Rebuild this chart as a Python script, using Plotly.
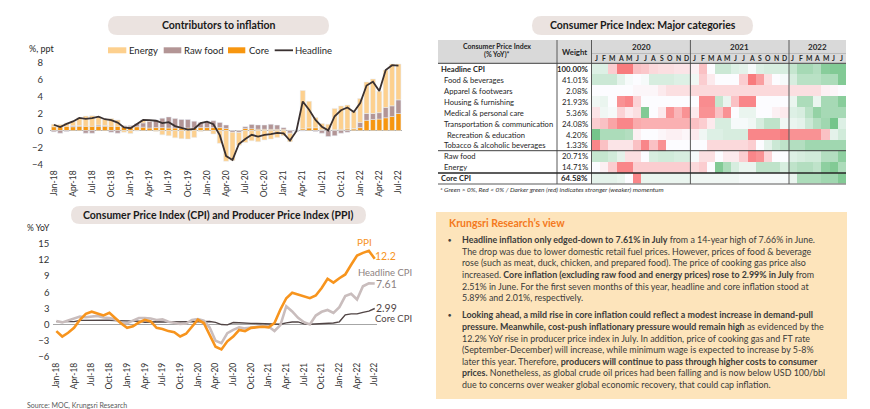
import plotly.graph_objects as go

W, H = 870, 409
def X(p): return p / W
def Y(p): return 1 - p / H

FONT = "Lato, Carlito, sans-serif"

# ---------------- data ----------------
months = ["Jan-18","Feb-18","Mar-18","Apr-18","May-18","Jun-18","Jul-18","Aug-18","Sep-18","Oct-18","Nov-18","Dec-18",
          "Jan-19","Feb-19","Mar-19","Apr-19","May-19","Jun-19","Jul-19","Aug-19","Sep-19","Oct-19","Nov-19","Dec-19",
          "Jan-20","Feb-20","Mar-20","Apr-20","May-20","Jun-20","Jul-20","Aug-20","Sep-20","Oct-20","Nov-20","Dec-20",
          "Jan-21","Feb-21","Mar-21","Apr-21","May-21","Jun-21","Jul-21","Aug-21","Sep-21","Oct-21","Nov-21","Dec-21",
          "Jan-22","Feb-22","Mar-22","Apr-22","May-22","Jun-22","Jul-22"]
tick_labels = ["Jan-18","Apr-18","Jul-18","Oct-18","Jan-19","Apr-19","Jul-19","Oct-19","Jan-20","Apr-20",
               "Jul-20","Oct-20","Jan-21","Apr-21","Jul-21","Oct-21","Jan-22","Apr-22","Jul-22"]

headline = [0.68,0.42,0.78,1.07,1.49,1.38,1.46,1.62,1.33,1.23,0.94,0.36,
            0.27,0.73,1.24,1.23,1.15,0.87,0.98,0.52,0.32,0.11,0.21,0.87,
            1.05,0.74,-0.54,-2.99,-3.44,-1.57,-0.98,-0.50,-0.70,-0.50,-0.41,-0.27,
            -0.34,-1.17,-0.08,3.41,2.44,1.25,0.45,0.02,1.68,2.38,2.71,2.17,
            3.23,5.28,5.73,4.65,7.10,7.66,7.61]
core_contrib = [0.45,0.45,0.5,0.45,0.5,0.5,0.5,0.5,0.5,0.5,0.5,0.45,
                0.45,0.45,0.4,0.3,0.35,0.35,0.3,0.3,0.3,0.3,0.3,0.35,
                0.35,0.35,0.35,0.25,0.0,-0.03,0.25,0.22,0.16,0.15,0.14,0.14,
                0.14,0.05,0.05,0.2,0.32,0.33,0.09,0.05,0.1,0.14,0.19,0.19,
                0.35,1.2,1.3,1.35,1.5,1.65,2.0]
rawfood_contrib = [-0.15,-0.3,-0.1,0.1,0.1,-0.3,-0.3,0.15,0.1,-0.2,-0.3,0.1,
                   0.15,0.35,0.5,0.8,0.9,1.1,1.3,1.1,1.0,1.0,0.8,0.6,
                   0.7,0.8,0.6,0.4,-0.2,-0.2,0.2,0.5,0.5,0.5,0.6,0.5,
                   0.2,-0.3,-0.1,-0.05,0.02,-0.1,-0.3,-0.7,-0.6,-0.3,-0.2,0.05,
                   0.6,0.8,0.7,0.75,1.2,1.25,1.6]
energy_contrib = [0.3,0.27,0.4,0.5,0.9,1.2,1.25,1.0,0.75,0.9,0.75,-0.2,
                  -0.35,-0.05,0.35,0.1,-0.1,-0.5,-0.6,-0.85,-0.95,-1.0,-0.8,-0.1,
                  0.0,-0.4,-1.5,-3.6,-3.3,-1.5,-1.4,-1.2,-1.3,-1.1,-1.0,-0.8,
                  -0.6,-1.0,0.0,4.5,3.1,1.2,0.75,0.7,2.5,2.75,2.8,2.0,
                  2.8,3.7,4.05,2.5,4.4,4.9,4.2]

ppi = [-1.2,-2.2,-1.5,-0.6,0.9,2.0,2.4,2.0,1.7,2.2,1.2,0.2,
       -0.6,-0.3,0.4,0.9,0.6,-0.6,-0.8,-1.2,-1.4,-2.2,-1.7,-0.3,
       0.9,0.3,-1.9,-4.1,-4.6,-3.1,-2.2,-1.0,-1.2,-0.6,-0.5,-0.4,
       -0.5,0.3,2.8,4.9,5.9,5.6,5.2,4.9,5.4,6.8,8.5,7.8,
       8.6,9.3,11.1,12.8,13.3,13.7,12.2]
core_cpi = [0.56,0.56,0.64,0.55,0.79,0.81,0.79,0.78,0.77,0.80,0.75,0.71,
            0.69,0.68,0.64,0.45,0.56,0.53,0.48,0.47,0.42,0.44,0.44,0.52,
            0.53,0.55,0.57,0.41,0.01,-0.05,0.39,0.35,0.25,0.23,0.22,0.21,
            0.21,0.07,0.08,0.32,0.49,0.51,0.14,0.07,0.16,0.21,0.29,0.29,
            0.52,1.80,2.00,2.00,2.28,2.51,2.99]

# heatmap table
heat_months = ["Jan-20","Feb-20","Mar-20","Apr-20","May-20","Jun-20","Jul-20","Aug-20","Sep-20","Oct-20","Nov-20","Dec-20",
               "Jan-21","Feb-21","Mar-21","Apr-21","May-21","Jun-21","Jul-21","Aug-21","Sep-21","Oct-21","Nov-21","Dec-21",
               "Jan-22","Feb-22","Mar-22","Apr-22","May-22","Jun-22","Jul-22"]
month_letters = ["J","F","M","A","M","J","J","A","S","O","N","D",
                 "J","F","M","A","M","J","J","A","S","O","N","D",
                 "J","F","M","A","M","J","J"]
years = ["2020", "2021", "2022"]
row_names = ["Headline CPI","Food & beverages","Apparel & footwears","Housing & furnishing",
             "Medical & personal care","Transportation & communication","Recreation & education",
             "Tobacco & alcoholic beverages","Raw food","Energy","Core CPI"]
weights = ["100.00%","41.01%","2.08%","21.93%","5.36%","24.08%","4.20%","1.33%","20.71%","14.71%","64.58%"]

hm_headline = [0.5,0.5,-0.8,-2.2,-2.2,-1.0,-0.9,-0.6,-0.5,-0.5,-0.4,-0.4, -0.2,-1.0,0.0,0.8,0.8,0.5,0.4,0.1,0.5,0.6,0.6,0.6, 0.9,1.4,1.4,1.2,1.9,2.0,2.0]
hm_food = [0.8,0.8,0.8,0.4,0.1,0.0,0.1,0.6,0.6,0.6,0.5,0.5, 0.2,-0.8,-0.3,0.0,0.0,0.0,-0.8,-2.2,-1.6,-0.5,0.0,0.1, 0.6,1.1,1.1,1.1,1.3,1.3,2.0]
hm_apparel = [0.0,0.0,0.0,0.0,0.0,-0.1,-0.1,-0.1,-0.3,-0.5,-0.5,-0.5, -0.6,-0.6,-0.6,-0.6,-0.6,-0.6,-0.6,-0.6,-0.6,-0.6,-0.6,-0.6, -0.5,-0.5,-0.5,-0.5,-0.2,-0.1,0.0]
hm_housing = [0.2,0.3,0.0,-1.8,-2.0,-0.7,0.0,0.0,0.0,0.0,0.0,0.0, 0.0,-1.9,-1.9,0.9,0.3,-1.0,-2.0,-2.0,0.0,0.0,0.0,0.0, 0.3,1.3,1.3,0.3,1.4,1.4,1.9]
hm_medical = [-0.4,0.2,0.1,-0.7,-0.3,-0.5,2.0,0.0,-0.3,-1.8,-1.2,-1.8, -0.3,-1.8,-1.8,-1.0,-1.8,0.0,0.3,0.3,0.0,0.0,-0.2,-0.3, 0.5,0.6,1.1,1.7,1.4,1.4,1.4]
hm_transport = [-0.8,-1.0,-1.5,-2.0,-2.0,-1.4,-1.3,-1.3,-1.3,-1.3,-1.3,-1.3, -1.0,-0.8,-0.3,0.6,0.6,0.1,0.1,0.2,0.6,1.0,1.0,0.2, 0.3,0.4,0.8,1.2,1.5,2.2,0.5]
hm_recreation = [2.2,1.3,1.3,1.3,1.2,-0.2,0.0,0.0,-0.1,-0.2,-0.2,-0.1, -0.3,0.2,0.5,0.5,0.6,0.6,0.6,-2.0,-2.0,-2.0,-2.0,-2.2, -1.8,-1.8,-1.8,-1.8,-1.0,0.4,0.7]
hm_tobacco = [-2.0,-1.0,-0.4,-0.4,-0.4,-1.0,-2.0,-1.0,-1.8,0.0,0.0,0.0, 0.0,0.0,-0.6,-0.6,-0.6,-0.6,-0.6,-0.8,0.0,0.4,0.8,1.0, 1.2,1.2,1.5,1.5,1.5,1.5,1.5]
hm_rawfood = [0.9,0.9,0.7,0.4,-0.5,-0.5,0.0,0.6,0.7,0.7,0.6,0.6, 0.1,-0.5,-0.5,0.0,-0.3,-0.3,-0.8,-2.0,-1.8,-0.7,0.0,0.0, 0.5,0.6,0.7,0.7,1.2,1.2,1.8]
hm_energy = [0.0,-0.2,-0.8,-2.0,-2.0,-0.8,-0.8,-0.8,-0.8,-0.8,-0.8,-0.8, -0.6,-0.8,0.0,2.0,1.3,0.6,0.3,0.3,1.0,1.0,1.0,0.6, 1.0,1.2,1.2,1.0,1.8,2.0,1.3]
hm_core = [0.4,0.4,0.4,0.3,0.0,-2.0,0.3,0.3,0.3,0.3,0.3,0.3, 0.2,0.2,0.2,0.2,0.2,0.2,0.1,0.1,0.1,0.1,0.1,0.1, 0.3,1.3,1.3,1.3,1.5,1.5,2.0]
heat_z = [hm_headline, hm_food, hm_apparel, hm_housing, hm_medical, hm_transport,
          hm_recreation, hm_tobacco, hm_rawfood, hm_energy, hm_core]

view_title = "Krungsri Research\u2019s view"
bullet1 = [
    "<b>Headline inflation only edged-down to 7.61% in July</b> from a 14-year high of 7.66% in June.",
    "The drop was due to lower domestic retail fuel prices. However, prices of food &amp; beverage",
    "rose (such as meat, duck, chicken, and prepared food). The price of cooking gas price also",
    "increased. <b>Core inflation (excluding raw food and energy prices) rose to 2.99% in July</b> from",
    "2.51% in June. For the first seven months of this year, headline and core inflation stood at",
    "5.89% and 2.01%, respectively.",
]
bullet2 = [
    "<b>Looking ahead, a mild rise in core inflation could reflect a modest increase in demand-pull</b>",
    "<b>pressure. Meanwhile, cost-push inflationary pressure would remain high</b> as evidenced by the",
    "12.2% YoY rise in producer price index in July. In addition, price of cooking gas and FT rate",
    "(September-December) will increase, while minimum wage is expected to increase by 5-8%",
    "later this year. Therefore, <b>producers will continue to pass through higher costs to consumer</b>",
    "<b>prices.</b> Nonetheless, as global crude oil prices had been falling and is now below USD 100/bbl",
    "due to concerns over weaker global economic recovery, that could cap inflation.",
]

# ---------------- styles ----------------
C_ENERGY = "#fdd08e"
C_RAW = "#b39595"
C_CORE = "#f7960f"
C_HEAD = "#3a3131"
C_PPI = "#f7941d"
C_HCPI = "#c9bdbd"
C_CCPI = "#514545"
PILL = "#ebe3e0"
TXT = "#262626"

fig = go.Figure()

# chart 1: contributors
fig.add_trace(go.Bar(x=months, y=core_contrib, name="Core", marker_color=C_CORE, xaxis="x", yaxis="y"))
fig.add_trace(go.Bar(x=months, y=rawfood_contrib, name="Raw food", marker_color=C_RAW, xaxis="x", yaxis="y"))
fig.add_trace(go.Bar(x=months, y=energy_contrib, name="Energy", marker_color=C_ENERGY, xaxis="x", yaxis="y"))
fig.add_trace(go.Scatter(x=months, y=headline, name="Headline", mode="lines",
                         line=dict(color=C_HEAD, width=1.8), xaxis="x", yaxis="y"))

# chart 2: CPI & PPI
fig.add_trace(go.Scatter(x=months, y=core_cpi, mode="lines", line=dict(color=C_CCPI, width=1.4), xaxis="x2", yaxis="y2"))
fig.add_trace(go.Scatter(x=months, y=headline, mode="lines", line=dict(color=C_HCPI, width=2.6), xaxis="x2", yaxis="y2"))
fig.add_trace(go.Scatter(x=months, y=ppi, mode="lines", line=dict(color=C_PPI, width=2.6), xaxis="x2", yaxis="y2"))

# heatmap
fig.add_trace(go.Heatmap(z=heat_z, x=heat_months, y=row_names, zmin=-2.5, zmax=2.5,
                         colorscale=[[0, "#f8696b"], [0.5, "#fcfcff"], [1, "#63be7b"]],
                         showscale=False, hoverinfo="skip", xaxis="x3", yaxis="y3"))

tickfont = dict(family=FONT, size=8.5, color="#333333")
ytickfont = dict(family=FONT, size=9.5, color="#333333")
common_x = dict(type="category", tickmode="array", tickvals=tick_labels, ticktext=tick_labels,
                tickangle=-90, tickfont=tickfont, showgrid=False, zeroline=False, showline=False,
                ticks="", automargin=False, fixedrange=True)
common_y = dict(showgrid=False, zeroline=True, zerolinecolor="#a6a6a6", zerolinewidth=1,
                showline=False, ticks="", tickfont=ytickfont, automargin=False, fixedrange=True)

fig.update_layout(
    width=W, height=H, margin=dict(l=0, r=0, t=0, b=0),
    paper_bgcolor="white", plot_bgcolor="white",
    barmode="relative", bargap=0.22, showlegend=False,
    font=dict(family=FONT, color=TXT),
    xaxis=dict(domain=[X(42), X(394.3)], range=[-0.6, 54.6], anchor="y", ticklabelstandoff=3, **common_x),
    yaxis=dict(domain=[Y(156.7), Y(54.3)], range=[-4, 8], dtick=2, tick0=0, anchor="x",
               ticklabelstandoff=6, **common_y),
    xaxis2=dict(domain=[X(45.4), X(368.5)], range=[-0.5, 54.3], anchor="y2", ticklabelstandoff=3, **common_x),
    yaxis2=dict(domain=[Y(349), Y(235.7)], range=[-6, 15], dtick=3, tick0=0, anchor="x2",
                ticklabelstandoff=3, **common_y),
    xaxis3=dict(domain=[X(584), X(838)], range=[-0.5, 30.5], anchor="y3", visible=False,
                type="category", fixedrange=True),
    yaxis3=dict(domain=[Y(175.7), Y(55.5)], range=[10.5, -0.5], anchor="x3", visible=False,
                type="category", fixedrange=True),
)

shapes = []
ann = []

def pill(x0, y0, x1, y1, fill):
    r = (y1 - y0) / 2
    def p(x, y): return f"{X(x):.5f},{Y(y):.5f}"
    path = (f"M {p(x0 + r, y0)} L {p(x1 - r, y0)} Q {p(x1, y0)} {p(x1, y0 + r)} "
            f"Q {p(x1, y1)} {p(x1 - r, y1)} L {p(x0 + r, y1)} Q {p(x0, y1)} {p(x0, y1 - r)} "
            f"Q {p(x0, y0)} {p(x0 + r, y0)} Z")
    shapes.append(dict(type="path", path=path, xref="paper", yref="paper",
                       fillcolor=fill, line=dict(width=0), layer="below"))

def rect(x0, y0, x1, y1, fill, layer="below"):
    shapes.append(dict(type="rect", xref="paper", yref="paper", x0=X(x0), x1=X(x1), y0=Y(y1), y1=Y(y0),
                       fillcolor=fill, line=dict(width=0), layer=layer))

def line(x0, y0, x1, y1, color, width=1):
    shapes.append(dict(type="line", xref="paper", yref="paper", x0=X(x0), x1=X(x1), y0=Y(y0), y1=Y(y1),
                       line=dict(color=color, width=width), layer="above"))

def text(x, y, s, size=9, color=TXT, xanchor="left", bold=False, italic=False, yanchor="middle"):
    if bold:
        s = f"<b>{s}</b>"
    if italic:
        s = f"<i>{s}</i>"
    ann.append(dict(x=X(x), y=Y(y), xref="paper", yref="paper", text=s, showarrow=False,
                    xanchor=xanchor, yanchor=yanchor, borderpad=0,
                    font=dict(family=FONT, size=size, color=color)))

# titles
pill(100, 8, 321, 27, PILL)
text(210.5, 17.5, "Contributors to inflation", size=10.5, bold=True, xanchor="center", color="#1a1a1a")
pill(524, 8, 745, 27, PILL)
text(634.5, 17.5, "Consumer Price Index: Major categories", size=10.5, bold=True, xanchor="center", color="#1a1a1a")
pill(63, 198, 358, 216, PILL)
text(210.5, 207, "Consumer Price Index (CPI) and Producer Price Index (PPI)", size=10.5, bold=True,
     xanchor="center", color="#1a1a1a")

# chart 1 labels & legend
text(20, 40, "%, ppt", size=9)
rect(100, 39.3, 118.3, 45.3, C_ENERGY, layer="above")
text(120, 42, "Energy", size=9.5)
rect(155.7, 39.3, 173.3, 45.3, C_RAW, layer="above")
text(175, 42, "Raw food", size=9.5)
rect(220, 39.3, 237.3, 45.3, C_CORE, layer="above")
text(239.5, 42, "Core", size=9.5)
line(266.7, 42.3, 285, 42.3, C_HEAD, 1.8)
text(286, 42, "Headline", size=9.5)

# chart 2 labels
text(18, 220, "% YoY", size=8.5)
text(356.7, 234, "PPI", size=10, color=C_PPI, xanchor="center")
text(366, 247.5, f"{ppi[-1]}", size=10.5, color=C_PPI)
text(349, 264.5, "Headline CPI", size=9.5, color="#8c8181")
text(366.5, 276, f"{headline[-1]}", size=10.5, color="#8c8181")
text(366.5, 299.5, f"{core_cpi[-1]}", size=10.5, color="#514545")
text(366, 310, "Core CPI", size=9.5, color="#514545")
text(18, 397, "Source: MOC, Krungsri Research", size=7, color="#595959")
rect(0, 406, 58, 409, "#b3aaaa")

# table
rect(430, 32, 838, 55.3, "#d9d9d9")
line(584, 45.5, 838, 45.5, "#a6a6a6", 0.6)
for xv in (549, 583.5, 682.4, 781):
    line(xv, 32, xv, 176, "#595959", 1)
line(430, 55.3, 838, 55.3, "#404040", 1)
line(430, 142.7, 838, 142.7, "#404040", 1)
line(430, 164.9, 838, 164.9, "#262626", 1.5)
line(430, 176, 838, 176, "#595959", 1)

text(489, 38.2, "Consumer Price Index", size=7, bold=True, xanchor="center")
text(489, 46.8, "(% YoY)*", size=7, bold=True, xanchor="center")
text(566, 43.5, "Weight", size=7.8, bold=True, xanchor="center")

year_centers = [5.5, 17.5, 27]
for yr, c in zip(years, year_centers):
    ann.append(dict(x=c, y=Y(39.5), xref="x3", yref="paper", text=f"<b>{yr}</b>", showarrow=False,
                    xanchor="center", yanchor="middle", font=dict(family=FONT, size=8, color=TXT)))
for i, m in enumerate(month_letters):
    ann.append(dict(x=i, y=Y(50), xref="x3", yref="paper", text=f"<b>{m}</b>", showarrow=False,
                    xanchor="center", yanchor="middle", font=dict(family=FONT, size=6.8, color=TXT)))

bold_rows = {"Headline CPI", "Core CPI"}
for name, w in zip(row_names, weights):
    b = name in bold_rows
    xl = 432 if b else (437.5 if name == "Recreation & education" else 435)
    nm = f"<b>{name}</b>" if b else name
    ww = f"<b>{w}</b>" if b else w
    ann.append(dict(x=X(xl), y=name, xref="paper", yref="y3", text=nm.replace("&", "&amp;"), showarrow=False,
                    xanchor="left", yanchor="middle", borderpad=0,
                    font=dict(family=FONT, size=7.6, color=TXT)))
    ann.append(dict(x=X(580.5), y=name, xref="paper", yref="y3", text=ww, showarrow=False,
                    xanchor="right", yanchor="middle", borderpad=0,
                    font=dict(family=FONT, size=7.8, color=TXT)))

text(431, 181.5, "* Green &gt; 0%, Red &lt; 0% / Darker green (red) indicates stronger (weaker) momentum",
     size=6.5, italic=True, color="#333333")

# view text box
rect(428, 204, 839, 391, "#fde4bb")
text(440, 215.5, view_title, size=10.5, bold=True, color="#f47920")
LH = 11.65
for i, s in enumerate(bullet1):
    text(452.5, 231.5 + i * LH, s, size=8.9, color="#3a3a3a")
text(441.5, 231.5, "\u25cf", size=5.5, color="#404040", xanchor="center")
for i, s in enumerate(bullet2):
    text(452.5, 306.7 + i * LH, s, size=8.9, color="#3a3a3a")
text(441.5, 306.7, "\u25cf", size=5.5, color="#404040", xanchor="center")

fig.update_layout(shapes=shapes, annotations=ann)
fig.write_html("out.html")
